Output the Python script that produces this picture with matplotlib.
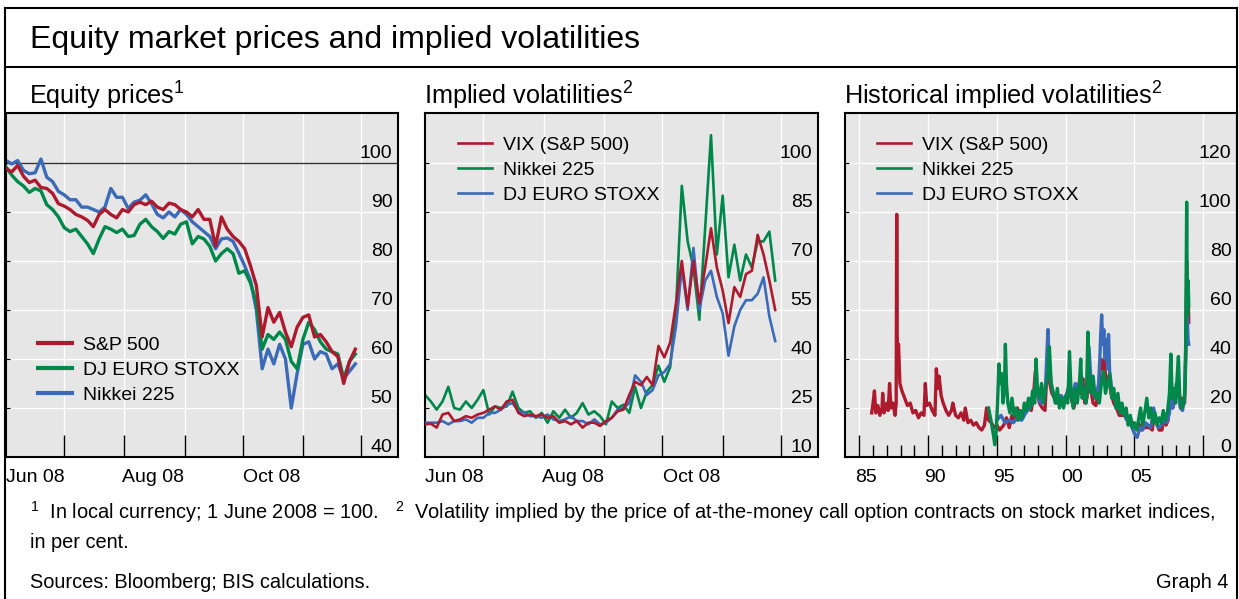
import pandas as pd
import matplotlib
matplotlib.use('Agg')
import matplotlib.pyplot as plt
from matplotlib.lines import Line2D

plt.rcParams['font.family'] = ['Liberation Sans', 'DejaVu Sans']
plt.rcParams['mathtext.fontset'] = 'custom'
plt.rcParams['mathtext.rm'] = 'Liberation Sans'
plt.rcParams['mathtext.default'] = 'regular'

ROJO = '#AD1A2E'
VERDE = '#00884A'
AZUL = '#3A6AB8'
FONDO = '#E6E6E6'

# fechas comunes de los dos primeros paneles (un punto cada 3 dias)
fechas = pd.date_range('2008-06-01', periods=61, freq='3D')

# panel 1: precios, 1 junio 2008 = 100
sp500 = [98.8, 98.2, 99.5, 97.3, 96.0, 96.5, 95.0, 94.8, 93.8, 91.7,
         91.2, 90.5, 89.5, 89.0, 88.3, 87.0, 89.5, 90.5, 89.5, 88.8,
         90.5, 90.0, 91.5, 92.0, 91.5, 92.2, 91.0, 90.5, 91.8, 91.5,
         90.5, 90.0, 89.0, 90.5, 88.5, 88.5, 83.0, 89.0, 86.5, 85.0,
         84.0, 82.5, 79.0, 75.0, 64.5, 70.5, 67.5, 69.5, 65.5, 62.5,
         66.5, 68.5, 69.0, 64.5, 65.0, 63.5, 61.5, 60.5, 55.0, 59.5,
         62.0]
dj_euro = [99.2, 97.5, 96.2, 95.3, 94.0, 94.8, 94.3, 91.5, 90.5, 89.0,
           86.8, 86.0, 86.5, 85.0, 83.5, 81.5, 84.5, 87.0, 86.5, 85.8,
           86.5, 85.0, 85.2, 87.5, 88.5, 87.0, 86.0, 84.6, 86.0, 85.5,
           87.5, 88.0, 83.5, 85.0, 84.5, 83.0, 80.0, 81.5, 82.5, 81.5,
           77.5, 78.0, 75.5, 71.5, 62.0, 65.0, 64.0, 65.5, 64.0, 59.5,
           58.0, 64.0, 67.5, 66.0, 63.5, 62.0, 61.5, 61.0, 56.0, 59.5,
           61.0]
nikkei = [100.5, 99.8, 100.5, 98.5, 97.8, 98.0, 100.8, 97.1, 96.2, 94.2,
          93.5, 92.5, 92.5, 91.0, 91.0, 90.5, 90.0, 91.0, 94.8, 93.0,
          93.0, 90.7, 92.0, 92.4, 93.5, 91.7, 89.5, 88.8, 90.0, 89.0,
          90.5, 89.5, 88.0, 87.0, 86.0, 85.0, 82.5, 84.5, 84.7, 84.0,
          81.6, 79.0, 76.0, 70.0, 58.0, 62.0, 59.0, 63.0, 60.0, 50.0,
          57.0, 63.0, 63.5, 60.0, 61.5, 61.0, 58.0, 59.0, 56.0, 57.5,
          59.0]

# panel 2: volatilidades implicitas, en %
vix = [20.0, 20.2, 19.0, 23.0, 23.5, 21.0, 21.5, 22.5, 22.0, 23.0,
       23.5, 24.5, 25.5, 24.5, 27.0, 27.5, 23.5, 22.5, 23.0, 22.5,
       23.0, 22.0, 22.5, 20.5, 21.0, 20.0, 21.0, 19.0, 20.5, 20.5,
       19.5, 21.0, 22.0, 24.0, 24.5, 29.0, 33.0, 32.0, 34.5, 32.0,
       44.0, 40.5, 45.0, 57.0, 70.0, 56.0, 70.0, 57.0, 68.0, 80.0,
       68.0, 61.0, 51.0, 62.0, 59.0, 66.0, 67.0, 78.0, 72.0, 64.0,
       55.0]
nikkei_vol = [29.0, 27.0, 24.5, 27.0, 31.5, 25.0, 24.5, 27.0, 25.0, 27.5,
              30.5, 23.0, 25.5, 25.0, 25.5, 30.0, 25.0, 23.5, 24.0, 22.0,
              23.5, 20.5, 24.0, 22.0, 24.5, 22.0, 23.5, 26.5, 23.0, 24.0,
              22.5, 20.0, 27.0, 25.0, 26.0, 23.5, 31.5, 25.0, 30.0, 32.0,
              38.0, 33.0, 37.5, 55.0, 93.0, 76.0, 68.0, 52.0, 80.0, 108.5,
              72.0, 90.0, 65.0, 75.0, 64.0, 72.0, 68.0, 76.0, 76.0, 79.0,
              64.0]
dj_vol = [20.5, 20.5, 20.5, 21.0, 20.0, 21.0, 21.0, 21.5, 20.5, 22.0,
          22.0, 23.5, 23.5, 24.5, 26.0, 26.5, 24.0, 23.5, 22.5, 22.5,
          22.0, 23.0, 21.5, 21.0, 21.5, 22.5, 21.0, 21.0, 20.0, 21.5,
          20.0, 20.5, 22.0, 24.5, 25.0, 26.5, 35.0, 33.0, 29.0, 30.5,
          35.0, 36.0, 38.5, 50.0, 68.0, 55.0, 74.0, 55.0, 64.0, 67.0,
          59.0, 54.0, 41.0, 50.0, 55.0, 58.0, 58.0, 60.0, 65.0, 53.0,
          45.5]

# panel 3: historico (anio decimal, valor)
vix_anios = [1985.9, 1986.0, 1986.1, 1986.2, 1986.35, 1986.5, 1986.65, 1986.7, 1986.8, 1987.0,
             1987.1, 1987.2, 1987.3, 1987.45, 1987.6, 1987.68, 1987.72, 1987.75, 1987.8, 1987.85,
             1987.95, 1988.1, 1988.3, 1988.5, 1988.7, 1988.9, 1989.1, 1989.3, 1989.5, 1989.7,
             1989.8, 1989.9, 1990.1, 1990.3, 1990.5, 1990.6, 1990.7, 1990.8, 1990.95, 1991.1,
             1991.3, 1991.5, 1991.7, 1991.8, 1992.0, 1992.2, 1992.4, 1992.6, 1992.7, 1992.9,
             1993.1, 1993.3, 1993.5, 1993.7, 1993.9, 1994.1, 1994.25, 1994.4, 1994.6, 1994.8,
             1995.0, 1995.2, 1995.5, 1995.7, 1995.9, 1996.1, 1996.3, 1996.5, 1996.7, 1996.9,
             1997.1, 1997.3, 1997.5, 1997.65, 1997.8, 1997.95, 1998.1, 1998.3, 1998.5, 1998.65,
             1998.75, 1998.85, 1999.0, 1999.2, 1999.4, 1999.6, 1999.8, 2000.0, 2000.2, 2000.4,
             2000.6, 2000.8, 2000.95, 2001.1, 2001.25, 2001.4, 2001.55, 2001.7, 2001.85, 2002.0,
             2002.2, 2002.4, 2002.55, 2002.65, 2002.8, 2002.95, 2003.15, 2003.3, 2003.5, 2003.7,
             2003.9, 2004.1, 2004.3, 2004.5, 2004.7, 2004.9, 2005.1, 2005.3, 2005.5, 2005.7,
             2005.9, 2006.1, 2006.3, 2006.45, 2006.6, 2006.8, 2007.0, 2007.15, 2007.3, 2007.45,
             2007.6, 2007.75, 2007.9, 2008.05, 2008.2, 2008.35, 2008.5, 2008.65, 2008.75, 2008.8,
             2008.85, 2008.9, 2008.95]
vix_hist = [18, 22, 27, 18, 21, 17, 20, 26, 18, 22,
            19, 30, 20, 22, 17, 22, 99, 50, 40, 46,
            30, 27, 24, 21, 22, 18, 19, 16, 18, 17,
            30, 21, 22, 19, 17, 36, 28, 33, 25, 22,
            19, 17, 19, 22, 17, 16, 18, 15, 20, 14,
            15, 13, 14, 12, 11, 13, 20, 15, 14, 12,
            13, 11, 13, 16, 12, 17, 15, 20, 16, 19,
            20, 22, 19, 24, 35, 26, 22, 20, 19, 36,
            40, 30, 26, 24, 22, 25, 23, 24, 28, 24,
            20, 27, 30, 26, 32, 22, 24, 38, 27, 22,
            21, 27, 40, 36, 40, 30, 33, 26, 22, 20,
            17, 17, 17, 15, 16, 13, 12, 14, 11, 12,
            12, 12, 11, 18, 14, 11, 11, 17, 13, 15,
            26, 20, 24, 27, 30, 20, 24, 22, 45, 80,
            60, 70, 55]

nik_anios = [1994.4, 1994.5, 1994.6, 1994.75, 1994.85, 1994.95, 1995.05, 1995.15, 1995.25, 1995.35,
             1995.45, 1995.55, 1995.62, 1995.7, 1995.8, 1995.95, 1996.1, 1996.25, 1996.4, 1996.55,
             1996.7, 1996.85, 1997.0, 1997.15, 1997.3, 1997.45, 1997.6, 1997.75, 1997.85, 1997.95,
             1998.1, 1998.25, 1998.4, 1998.55, 1998.7, 1998.82, 1998.95, 1999.1, 1999.25, 1999.4,
             1999.55, 1999.7, 1999.85, 2000.0, 2000.15, 2000.28, 2000.4, 2000.55, 2000.7, 2000.85,
             2001.0, 2001.1, 2001.2, 2001.35, 2001.5, 2001.62, 2001.72, 2001.85, 2002.0, 2002.15,
             2002.3, 2002.45, 2002.6, 2002.75, 2002.9, 2003.05, 2003.2, 2003.35, 2003.5, 2003.65,
             2003.8, 2003.95, 2004.1, 2004.25, 2004.4, 2004.55, 2004.7, 2004.85, 2005.0, 2005.15,
             2005.3, 2005.45, 2005.6, 2005.75, 2005.9, 2006.05, 2006.2, 2006.35, 2006.5, 2006.65,
             2006.8, 2006.95, 2007.1, 2007.25, 2007.4, 2007.55, 2007.65, 2007.75, 2007.85, 2008.0,
             2008.1, 2008.2, 2008.3, 2008.45, 2008.6, 2008.7, 2008.75, 2008.8, 2008.83, 2008.87,
             2008.91, 2008.95]
nik_hist = [20, 17, 14, 9, 5, 10, 22, 38, 30, 34,
            22, 28, 46, 30, 22, 18, 24, 17, 20, 15,
            19, 16, 22, 19, 24, 20, 27, 22, 40, 28,
            24, 30, 22, 28, 34, 45, 30, 26, 22, 28,
            20, 24, 20, 25, 22, 43, 26, 20, 28, 22,
            30, 40, 24, 28, 22, 51, 30, 26, 33, 24,
            26, 22, 30, 35, 26, 30, 34, 24, 28, 20,
            26, 18, 22, 17, 20, 13, 17, 12, 14, 11,
            15, 20, 13, 18, 24, 16, 20, 14, 18, 13,
            16, 14, 19, 15, 18, 26, 42, 24, 28, 22,
            32, 41, 24, 20, 22, 30, 60, 104, 75, 58,
            72, 62]

dj_anios = [1995.0, 1995.3, 1995.6, 1995.9, 1996.2, 1996.5, 1996.8, 1997.1, 1997.4, 1997.6,
            1997.85, 1998.0, 1998.2, 1998.4, 1998.55, 1998.65, 1998.72, 1998.8, 1998.95, 1999.1,
            1999.3, 1999.5, 1999.7, 1999.9, 2000.1, 2000.3, 2000.5, 2000.7, 2000.9, 2001.1,
            2001.3, 2001.5, 2001.7, 2001.85, 2002.0, 2002.2, 2002.4, 2002.5, 2002.55, 2002.62,
            2002.7, 2002.78, 2002.85, 2002.95, 2003.05, 2003.12, 2003.2, 2003.35, 2003.55, 2003.75,
            2003.95, 2004.2, 2004.45, 2004.7, 2004.9, 2005.05, 2005.2, 2005.4, 2005.6, 2005.8,
            2006.0, 2006.2, 2006.4, 2006.55, 2006.75, 2006.95, 2007.15, 2007.35, 2007.55, 2007.65,
            2007.8, 2007.95, 2008.05, 2008.2, 2008.35, 2008.5, 2008.65, 2008.75, 2008.8, 2008.85,
            2008.9, 2008.95]
dj_hist = [15, 17, 14, 15, 14, 16, 15, 18, 20, 22,
           30, 24, 22, 24, 30, 44, 52, 38, 30, 26,
           24, 22, 25, 23, 26, 30, 25, 30, 28, 32,
           25, 24, 45, 30, 26, 24, 30, 42, 50, 58,
           46, 52, 40, 48, 36, 50, 35, 28, 24, 21,
           19, 18, 15, 14, 11, 9, 8, 12, 11, 14,
           13, 12, 20, 15, 12, 13, 15, 14, 18, 28,
           20, 24, 30, 26, 20, 19, 24, 50, 70, 57,
           48, 46]

W, H = 1239, 599


def caja(x0, x1, y0, y1):
    # rectangulo en pixeles -> fraccion de la figura
    return [x0 / W, 1 - y1 / H, (x1 - x0) / W, (y1 - y0) / H]


def estilo(ax, yvals):
    ax.set_facecolor(FONDO)
    for s in ax.spines.values():
        s.set_linewidth(1.5)
        s.set_color('black')
    ax.set_axisbelow(True)
    ax.set_yticks(yvals)
    ax.grid(True, which='major', color='white', linewidth=1)
    ax.tick_params(axis='y', direction='in', length=3, width=0.8, labelleft=False)
    ax.tick_params(axis='x', which='major', direction='in', length=16, width=1, labelbottom=False)
    ax.tick_params(axis='x', which='minor', direction='in', length=8.5, width=1)
    for v in yvals:
        ax.annotate(str(v), xy=(1, v), xycoords=('axes fraction', 'data'), xytext=(-4, 3.5),
                    textcoords='offset points', ha='right', va='baseline', fontsize=14,
                    annotation_clip=False)


def etiquetas_x(ax, posiciones, textos):
    for p, t in zip(posiciones, textos):
        ax.annotate(t, xy=(p, 0), xycoords=('data', 'axes fraction'), xytext=(0, -18),
                    textcoords='offset points', ha='center', va='baseline', fontsize=14,
                    annotation_clip=False)


def leyenda(ax, lineas, nombres, x, y):
    return ax.legend(lineas, nombres, loc='center left', bbox_to_anchor=(x, y), frameon=False,
                     fontsize=14, handlelength=1.75, handletextpad=0.55, labelspacing=0.38,
                     borderpad=0, borderaxespad=0)


fig = plt.figure(figsize=(W / 100, H / 100), dpi=100)

meses = pd.date_range('2008-07-01', periods=6, freq='MS')
pos_meses = [pd.Timestamp('2008-06-16'), pd.Timestamp('2008-08-16'), pd.Timestamp('2008-10-16')]
txt_meses = ['Jun 08', 'Aug 08', 'Oct 08']

# ---- panel 1
ax1 = fig.add_axes(caja(6, 398, 113, 457))
ax1.set_xlim(pd.Timestamp('2008-06-01'), pd.Timestamp('2008-12-20'))
ax1.set_ylim(40, 110.2)
ax1.set_xticks(meses)
estilo(ax1, [40, 50, 60, 70, 80, 90, 100])
ax1.axhline(100, color='#333333', linewidth=1, zorder=1.5)
l_nik, = ax1.plot(fechas, nikkei, color=AZUL, linewidth=2.4, zorder=2)
l_dj, = ax1.plot(fechas, dj_euro, color=VERDE, linewidth=2.4, zorder=3)
l_sp, = ax1.plot(fechas, sp500, color=ROJO, linewidth=2.4, zorder=4)
etiquetas_x(ax1, pos_meses, txt_meses)
leg = leyenda(ax1, [l_sp, l_dj, l_nik], ['S&P 500', 'DJ EURO STOXX', 'Nikkei 225'], 0.082, 0.253)
for ln in leg.get_lines():
    ln.set_linewidth(3)

# ---- panel 2
ax2 = fig.add_axes(caja(425, 818, 113, 457))
ax2.set_xlim(pd.Timestamp('2008-06-01'), pd.Timestamp('2008-12-20'))
ax2.set_ylim(10, 115.3)
ax2.set_xticks(meses)
estilo(ax2, [10, 25, 40, 55, 70, 85, 100])
l_n2, = ax2.plot(fechas, nikkei_vol, color=VERDE, linewidth=1.9, zorder=2)
l_d2, = ax2.plot(fechas, dj_vol, color=AZUL, linewidth=1.9, zorder=3)
l_v2, = ax2.plot(fechas, vix, color=ROJO, linewidth=1.9, zorder=4)
etiquetas_x(ax2, pos_meses, txt_meses)
leyenda(ax2, [l_v2, l_n2, l_d2], ['VIX (S&P 500)', 'Nikkei 225', 'DJ EURO STOXX'], 0.084, 0.834)

# ---- panel 3
ax3 = fig.add_axes(caja(845, 1237, 113, 457))
ax3.set_xlim(1983.96, 2012.46)
ax3.set_ylim(0, 140.4)
ax3.set_xticks([1985, 1990, 1995, 2000, 2005, 2010])
ax3.set_xticks([a for a in range(1986, 2010) if a % 5 != 0], minor=True)
estilo(ax3, [0, 20, 40, 60, 80, 100, 120])
l_v3, = ax3.plot(vix_anios, vix_hist, color=ROJO, linewidth=2.4, zorder=2)
l_d3, = ax3.plot(dj_anios, dj_hist, color=AZUL, linewidth=2.4, zorder=3)
l_n3, = ax3.plot(nik_anios, nik_hist, color=VERDE, linewidth=2.4, zorder=4)
etiquetas_x(ax3, [1985.5, 1990.5, 1995.5, 2000.5, 2005.5], ['85', '90', '95', '00', '05'])
leg3 = leyenda(ax3, [l_v3, l_n3, l_d3], ['VIX (S&P 500)', 'Nikkei 225', 'DJ EURO STOXX'], 0.082, 0.834)
for ln in leg3.get_lines():
    ln.set_linewidth(1.9)

# ---- marco y textos
negro = dict(transform=fig.transFigure, color='black', linewidth=1.5)
fig.add_artist(Line2D([5 / W, 5 / W], [0, 1 - 8 / H], **negro))
fig.add_artist(Line2D([1237 / W, 1237 / W], [0, 1 - 8 / H], **negro))
fig.add_artist(Line2D([5 / W, 1237 / W], [1 - 8 / H, 1 - 8 / H], **negro))
fig.add_artist(Line2D([5 / W, 1237 / W], [1 - 67 / H, 1 - 67 / H], **negro))

fig.text(30 / W, 1 - 48 / H, 'Equity market prices and implied volatilities', fontsize=23, va='baseline')
fig.text(29 / W, 1 - 105 / H, 'Equity prices$^{1}$', fontsize=18.2, va='baseline')
fig.text(424 / W, 1 - 105 / H, 'Implied volatilities$^{2}$', fontsize=18.2, va='baseline')
fig.text(844 / W, 1 - 105 / H, 'Historical implied volatilities$^{2}$', fontsize=18.2, va='baseline')

fig.text(30 / W, 1 - 519 / H, '$^{1}$  In local currency; 1 June 2008 = 100.   $^{2}$  Volatility implied by the price '
         'of at-the-money call option contracts on stock market indices,', fontsize=14.4, va='baseline')
fig.text(30 / W, 1 - 548 / H, 'in per cent.', fontsize=14.4, va='baseline')
fig.text(30 / W, 1 - 588 / H, 'Sources: Bloomberg; BIS calculations.', fontsize=14.4, va='baseline')
fig.text(1228 / W, 1 - 588 / H, 'Graph 4', fontsize=14.4, va='baseline', ha='right')

fig.savefig('out.png', dpi=100)
